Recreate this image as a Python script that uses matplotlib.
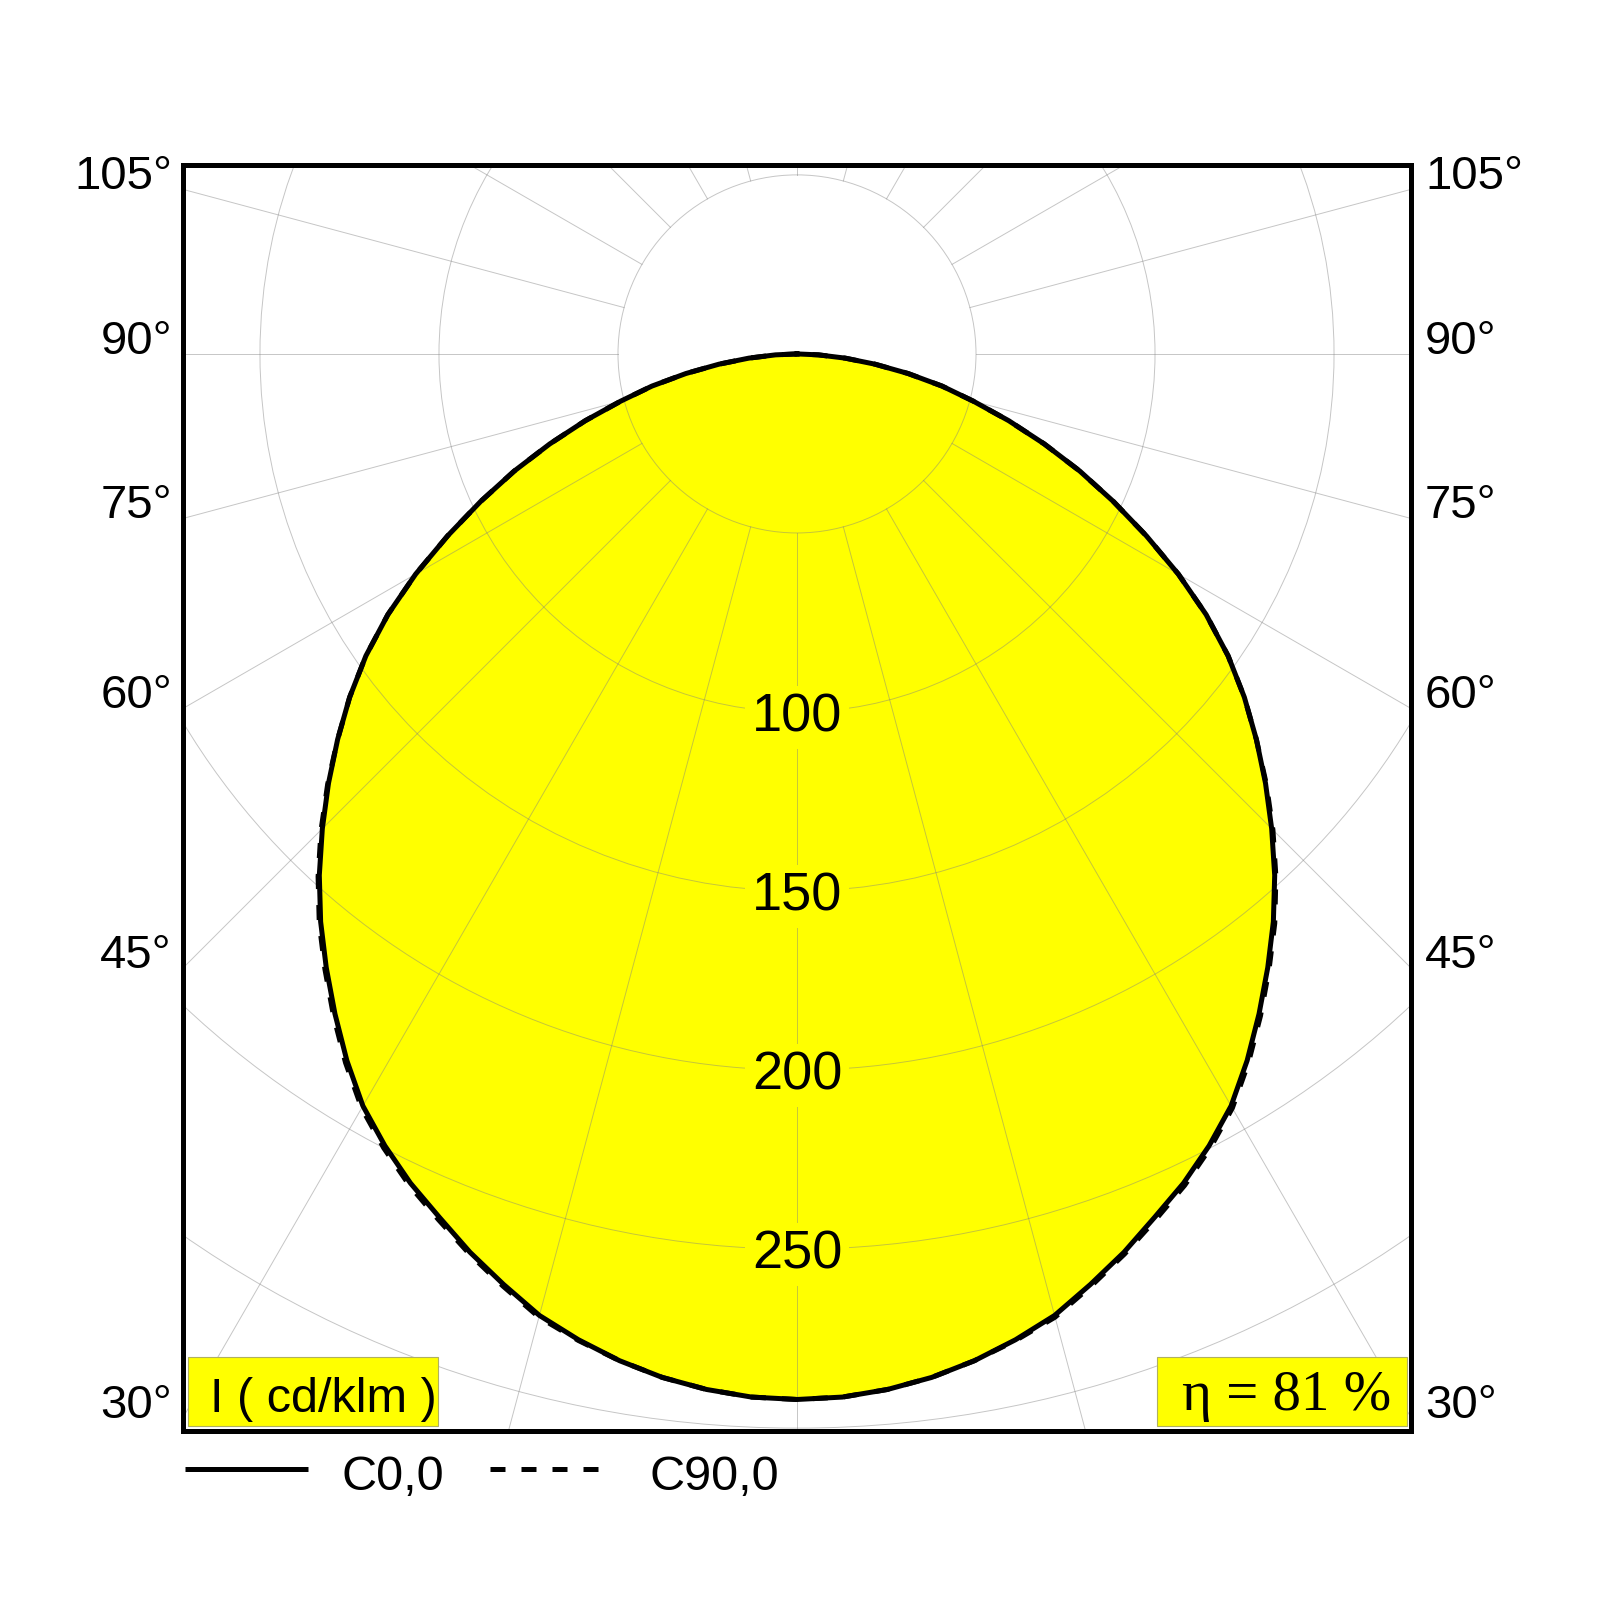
import numpy as np
import matplotlib.pyplot as plt
from matplotlib.lines import Line2D
from matplotlib.patches import Rectangle, Circle

# luminous intensity distribution, cd/klm, gamma measured from nadir
gamma = [0, 2.5, 5, 7.5, 10, 12.5, 15, 17.5, 20, 22.5, 25, 27.5, 30, 32.5, 35, 37.5,
         40, 42.5, 45, 47.5, 50, 52.5, 55, 57.5, 60, 62.5, 65, 67.5, 70, 72.5, 75,
         77.5, 80, 82.5, 85, 87.5, 90]
c0 = [292, 291.6, 290.3, 288.3, 285.5, 282, 278, 272.5, 267, 261, 255.5, 249.3, 242.5, 234,
      225, 216, 207, 197.5, 187.5, 177.5, 167.5, 157.5, 147, 135.5, 123, 110, 97.5, 85.5,
      73.5, 62, 51, 41.5, 31.5, 22, 13.5, 6, 0]
c90 = [292, 291.6, 290.3, 288.3, 285.5, 282.2, 278.5, 273, 267.5, 261.7, 256.2, 250, 243.2, 234.7,
       225.7, 216.6, 207.6, 198, 188, 177.8, 167.5, 157.5, 147, 135.5, 123, 110, 97.5, 85.5,
       73.5, 62, 51, 41.5, 31.5, 22, 13.5, 6, 0]

ring_values = [50, 100, 150, 200, 250, 300]
ring_labels = [100, 150, 200, 250]
angle_labels = [30, 45, 60, 75, 90, 105]
efficiency = 81

XMAX = 171.5
YMIN, YMAX = -300.8, 52.9


def to_xy(gam, vals, side=1):
    g = np.radians(gam)
    v = np.asarray(vals, dtype=float)
    return side * v * np.sin(g), -v * np.cos(g)


fig = plt.figure(figsize=(16, 16), dpi=100)
ax = fig.add_axes([183 / 1600, 1 - 1431 / 1600, 1228 / 1600, 1266.5 / 1600])
ax.set_xlim(-XMAX, XMAX)
ax.set_ylim(YMIN, YMAX)
ax.set_xticks([])
ax.set_yticks([])
for s in ax.spines.values():
    s.set_linewidth(3.6)
    s.set_zorder(10)

# closed outline for the fill (C0 / C180)
xr, yr = to_xy(gamma, c0, 1)
xl, yl = to_xy(gamma, c0, -1)
fx = np.concatenate([xl[::-1], xr])
fy = np.concatenate([yl[::-1], yr])
ax.fill(fx, fy, color="#ffff00", zorder=1, lw=0)

# grid: rings and radial lines
grid_kw = dict(color="#808080", alpha=0.45, lw=0.7, zorder=2)
for r in ring_values:
    ax.add_patch(Circle((0, 0), r, fill=False, **grid_kw))
for a in range(0, 360, 15):
    t = np.radians(a)
    ax.plot([50 * np.sin(t), 400 * np.sin(t)], [-50 * np.cos(t), -400 * np.cos(t)], **grid_kw)

# C90 dashed, C0 solid
x9r, y9r = to_xy(gamma, c90, 1)
x9l, y9l = to_xy(gamma, c90, -1)
ax.plot(np.concatenate([x9l[::-1], x9r]), np.concatenate([y9l[::-1], y9r]),
        color="black", lw=3.6, dashes=(3, 3.2), dash_capstyle="butt", zorder=3)
ax.plot(fx, fy, color="black", lw=3.6, zorder=4, solid_joinstyle="round")

# ring values
for v in ring_labels:
    ax.text(0, -v, str(v), fontsize=39, family="Liberation Sans", ha="center",
            va="center_baseline", zorder=5,
            bbox=dict(boxstyle="square,pad=0.12", fc="#ffff00", ec="none"))

# angle labels where the radial lines meet the frame
for a in angle_labels:
    t = np.radians(a)
    y = -XMAX * np.cos(t) / np.sin(t)
    ax.annotate(f"{a}°", (-XMAX, y), xytext=(-8, 0), textcoords="offset points",
                ha="right", va="baseline", fontsize=34, family="Liberation Sans",
                annotation_clip=False)
    ax.annotate(f"{a}°", (XMAX, y), xytext=(10, 0), textcoords="offset points",
                ha="left", va="baseline", fontsize=34, family="Liberation Sans",
                annotation_clip=False)

# info boxes
box_kw = dict(transform=ax.transAxes, fc="#ffff00", ec="#b0b060", lw=0.8, zorder=6)
ax.add_patch(Rectangle((0.0041, 0.0039), 0.2036, 0.0545, **box_kw))
ax.add_patch(Rectangle((0.7932, 0.0039), 0.2035, 0.0545, **box_kw))
ax.text(0.022, 0.015, "I ( cd/klm )", transform=ax.transAxes, fontsize=35,
        family="Liberation Sans", ha="left", va="baseline", zorder=7)
ax.text(0.8986, 0.0166, f"η = {efficiency} %", transform=ax.transAxes, fontsize=41,
        family="Liberation Serif", ha="center", va="baseline", zorder=7)

# legend below the frame
ly = 1 - 1469 / 1600
fig.add_artist(Line2D([185 / 1600, 308 / 1600], [ly, ly], color="black", lw=3.6,
                      solid_capstyle="butt", transform=fig.transFigure))
fig.add_artist(Line2D([490 / 1600, 598 / 1600], [ly, ly], color="black", lw=3.6,
                      dashes=(3, 3.2), dash_capstyle="butt", transform=fig.transFigure))
fig.text(341 / 1600, 1 - 1490 / 1600, "C0,0", fontsize=35, family="Liberation Sans",
         ha="left", va="baseline")
fig.text(649 / 1600, 1 - 1490 / 1600, "C90,0", fontsize=35, family="Liberation Sans",
         ha="left", va="baseline")

fig.savefig("out.png", dpi=100, facecolor="white")
